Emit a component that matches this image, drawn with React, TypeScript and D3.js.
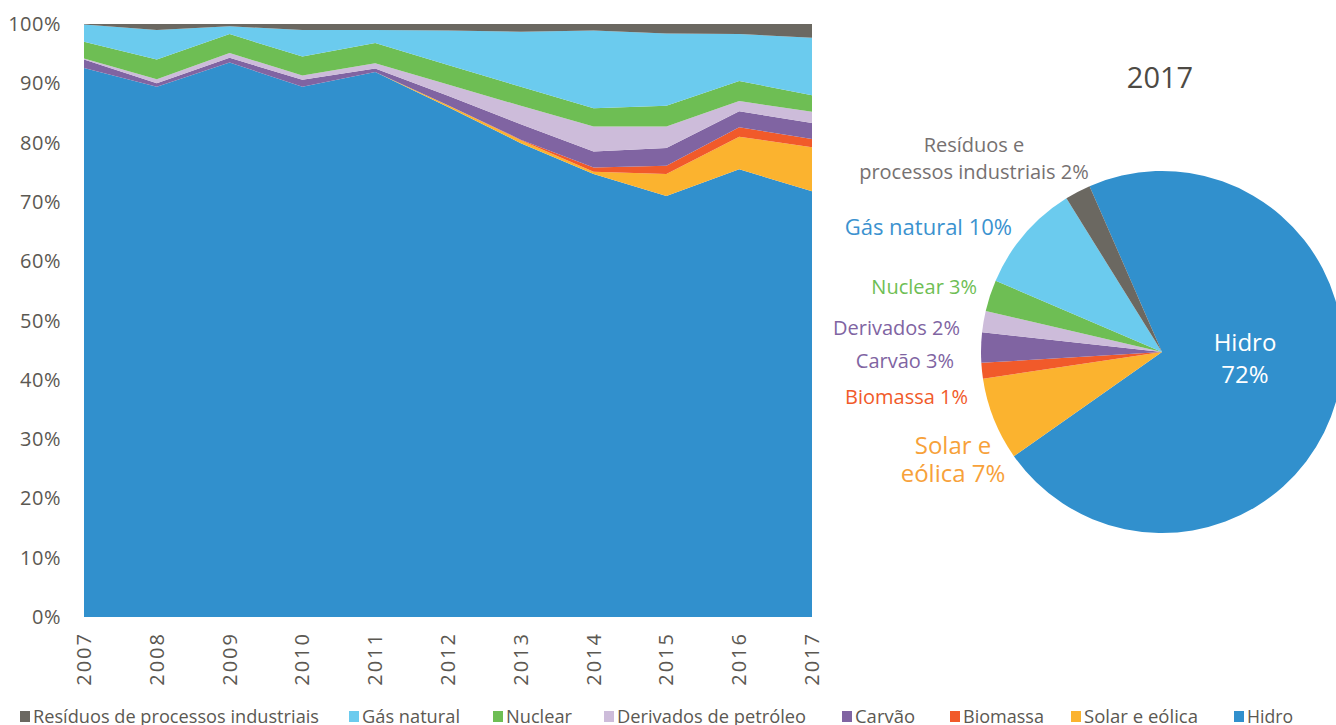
import React from 'react';
import * as d3 from 'd3';

// shares of electricity generation (%), 2007-2017
const years = [2007, 2008, 2009, 2010, 2011, 2012, 2013, 2014, 2015, 2016, 2017];
const hidro = [92.6, 89.4, 93.5, 89.4, 91.9, 86.0, 79.9, 74.7, 71.0, 75.5, 71.8];
const solarEolica = [0, 0, 0, 0, 0, 0.3, 0.5, 0.4, 3.7, 5.5, 7.4];
const biomassa = [0, 0, 0, 0, 0, 0, 0.1, 0.7, 1.4, 1.6, 1.4];
const carvao = [1.4, 0.6, 0.8, 1.2, 0.6, 1.6, 2.6, 2.7, 3.0, 2.7, 2.7];
const derivados = [0.2, 0.7, 0.8, 0.7, 0.9, 1.9, 3.1, 4.2, 3.6, 1.7, 1.9];
const nuclear = [2.8, 3.3, 3.2, 3.2, 3.4, 3.3, 3.2, 3.1, 3.5, 3.4, 2.8];
const gasNatural = [2.9, 5.0, 1.3, 4.5, 2.2, 5.8, 9.3, 13.1, 12.2, 7.9, 9.7];
const residuos = [0.1, 1.0, 0.4, 1.0, 1.0, 1.1, 1.3, 1.1, 1.6, 1.7, 2.3];

const yTicks = [0, 10, 20, 30, 40, 50, 60, 70, 80, 90, 100];

// stack order, bottom to top
const seriesKeys = ['hidro', 'solar', 'biomassa', 'carvao', 'derivados', 'nuclear', 'gas', 'residuos'];
const seriesValues: Record<string, number[]> = {
  hidro, solar: solarEolica, biomassa, carvao, derivados, nuclear, gas: gasNatural, residuos,
};
const colors: Record<string, string> = {
  hidro: '#3190cd',
  solar: '#fbb32f',
  biomassa: '#f15a2a',
  carvao: '#8064a2',
  derivados: '#cdbcda',
  nuclear: '#6ebe54',
  gas: '#6bcbee',
  residuos: '#6b6861',
};

// legend, left to right
const legendKeys = ['residuos', 'gas', 'nuclear', 'derivados', 'carvao', 'biomassa', 'solar', 'hidro'];
const legendNames: Record<string, string> = {
  residuos: 'Resíduos de processos industriais',
  gas: 'Gás natural',
  nuclear: 'Nuclear',
  derivados: 'Derivados de petróleo',
  carvao: 'Carvão',
  biomassa: 'Biomassa',
  solar: 'Solar e eólica',
  hidro: 'Hidro',
};
const legendLayout: Record<string, { x: number; w: number }> = {
  residuos: { x: 20, w: 286 },
  gas: { x: 349, w: 98 },
  nuclear: { x: 493, w: 66 },
  derivados: { x: 604, w: 189 },
  carvao: { x: 842, w: 60 },
  biomassa: { x: 950, w: 81 },
  solar: { x: 1071, w: 114 },
  hidro: { x: 1234, w: 46 },
};

// pie label text & placement
const pieLabelLines: Record<string, string[]> = {
  residuos: ['Resíduos e', 'processos industriais'],
  gas: ['Gás natural'],
  nuclear: ['Nuclear'],
  derivados: ['Derivados'],
  carvao: ['Carvão'],
  biomassa: ['Biomassa'],
  solar: ['Solar e', 'eólica'],
  hidro: ['Hidro'],
};
const pieLabelLayout: Record<string, { x: number; y: number; anchor: string; size: number; color: string; lh: number }> = {
  residuos: { x: 974, y: 152, anchor: 'middle', size: 20, color: '#767171', lh: 27 },
  gas: { x: 1012, y: 235, anchor: 'end', size: 22, color: '#3b92cf', lh: 0 },
  nuclear: { x: 977, y: 294, anchor: 'end', size: 20, color: '#6ebe54', lh: 0 },
  derivados: { x: 960, y: 335, anchor: 'end', size: 20, color: '#8064a2', lh: 0 },
  carvao: { x: 954, y: 368, anchor: 'end', size: 20, color: '#8064a2', lh: 0 },
  biomassa: { x: 968, y: 404, anchor: 'end', size: 20, color: '#f15a2a', lh: 0 },
  solar: { x: 953, y: 454, anchor: 'middle', size: 24, color: '#f7a13a', lh: 28 },
  hidro: { x: 1245, y: 351, anchor: 'middle', size: 24, color: '#ffffff', lh: 32 },
};

const FONT = "'Open Sans', 'Noto Sans', sans-serif";
const AXIS = '#5b5852';

export default function App() {
  const x = d3.scalePoint<number>().domain(years).range([84, 812]);
  const y = d3.scaleLinear().domain([0, 100]).range([617, 24]);

  const rows = years.map((yr, i) => {
    const r: Record<string, number> = { year: yr };
    seriesKeys.forEach(k => { r[k] = seriesValues[k][i]; });
    return r;
  });
  const stacked = d3.stack<Record<string, number>>().keys(seriesKeys)(rows);
  const area = d3.area<any>()
    .x(d => x(d.data.year) as number)
    .y0(d => y(d[0]))
    .y1(d => y(d[1]));

  // pie for the last year
  const last = years.length - 1;
  const pieData = seriesKeys.map(k => ({ key: k, value: seriesValues[k][last] }));
  const startA = (-23.6 * Math.PI) / 180;
  const pie = d3.pie<{ key: string; value: number }>()
    .sort(null)
    .value(d => d.value)
    .startAngle(startA)
    .endAngle(startA + 2 * Math.PI);
  const arcs = pie(pieData);
  const arc = d3.arc<any>().innerRadius(0).outerRadius(181);
  const cx = 1162, cy = 352;

  return (
    <svg width={1336} height={725} style={{ position: 'absolute', left: 0, top: 0 }} fontFamily={FONT}>
      <rect width={1336} height={725} fill="#ffffff" />

      {stacked.map(s => (
        <path key={s.key} d={area(s as any) || ''} fill={colors[s.key]} />
      ))}

      {yTicks.map(t => (
        <text key={t} x={61} y={y(t)} dy="0.35em" textAnchor="end" fontSize={20} fill={AXIS} letterSpacing={0.5}>
          {t}%
        </text>
      ))}

      {years.map(yr => (
        <text key={yr} transform={`translate(${(x(yr) as number) + 7},632) rotate(-90)`}
          textAnchor="end" fontSize={20} fill={AXIS} letterSpacing={2}>
          {yr}
        </text>
      ))}

      {legendKeys.map(k => (
        <g key={k}>
          <rect x={legendLayout[k].x} y={711} width={10} height={11} fill={colors[k]} />
          <text x={legendLayout[k].x + 13} y={723} fontSize={19} fill={AXIS}
            textLength={legendLayout[k].w} lengthAdjust="spacingAndGlyphs">
            {legendNames[k]}
          </text>
        </g>
      ))}

      <text x={1160} y={88} textAnchor="middle" fontSize={29} fill="#4d4a44">{years[last]}</text>

      <g transform={`translate(${cx},${cy})`}>
        {arcs.map(a => (
          <path key={a.data.key} d={arc(a) || ''} fill={colors[a.data.key]} />
        ))}
      </g>

      {arcs.map(a => {
        const L = pieLabelLayout[a.data.key];
        const lines = pieLabelLines[a.data.key];
        const pct = `${Math.round(a.data.value)}%`;
        const isSplit = a.data.key === 'hidro';
        const all = isSplit ? [...lines, pct] : lines.map((ln, i) => (i === lines.length - 1 ? `${ln} ${pct}` : ln));
        return (
          <text key={a.data.key} x={L.x} y={L.y} textAnchor={L.anchor} fontSize={L.size} fill={L.color}>
            {all.map((ln, i) => (
              <tspan key={i} x={L.x} dy={i === 0 ? 0 : L.lh}>{ln}</tspan>
            ))}
          </text>
        );
      })}
    </svg>
  );
}
